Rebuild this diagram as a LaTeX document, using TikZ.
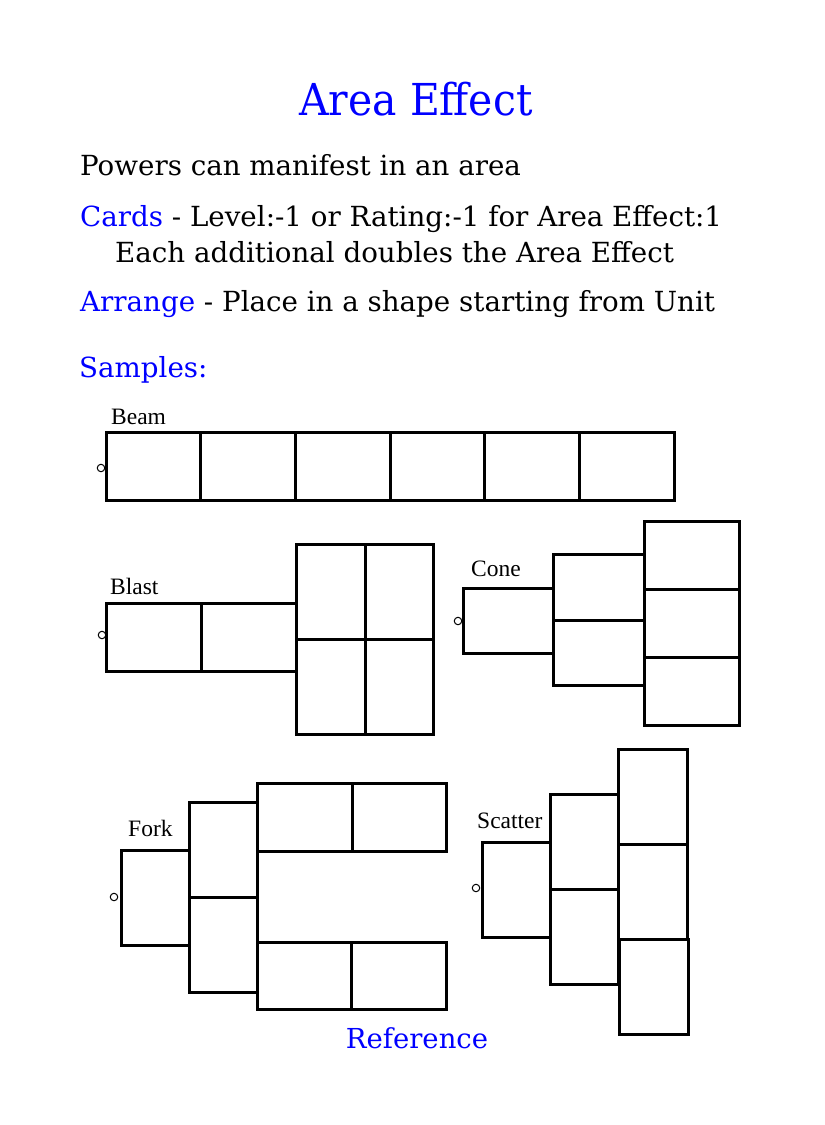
\documentclass[tikz,border=0pt]{standalone}
\usepackage{fontspec}
\setmainfont{DejaVu Serif}
\newfontfamily\titlefont{DejaVu Serif}[FakeStretch=0.93]
\newfontfamily\labelfont{Liberation Serif}
\definecolor{headblue}{RGB}{0,0,255}

\begin{document}
\begin{tikzpicture}[x=1pt,y=-1pt,
  card/.style={line width=3pt},
  unit/.style={circle,draw,line width=1pt,minimum size=7.5pt,inner sep=0pt},
  line/.style={anchor=base west,inner sep=0pt,font=\fontsize{27.7}{33}\selectfont},
  tag/.style={anchor=base west,inner sep=0pt,font=\labelfont\fontsize{23.5}{28}\selectfont}]
\useasboundingbox (0,0) rectangle (825,1125);
% heading text
\node[anchor=base,inner sep=0pt,text=headblue,font=\titlefont\fontsize{44}{53}\selectfont] (title) at (416,115) {Area Effect};
\node[line] (intro) at (80,175) {Powers can manifest in an area};
\node[line] (cards) at (80,226) {\textcolor{headblue}{Cards} - Level:-1 or Rating:-1 for Area Effect:1};
\node[line] (cardsmore) at (115,262) {Each additional doubles the Area Effect};
\node[line] (arrange) at (80,311) {\textcolor{headblue}{Arrange} - Place in a shape starting from Unit};
\node[line,text=headblue] (samples) at (79,377) {Samples:};
% beam
\node[tag] (beam) at (111,424) {Beam};
\node[unit] (beamunit) at (101,468) {};
\foreach \i in {0,...,5}
  \draw[card] ({106+94.67*\i},432) rectangle +(94.67,68);
% blast
\node[tag] (blast) at (110,594) {Blast};
\node[unit] (blastunit) at (102,635) {};
\draw[card] (106,603) rectangle (201,671);
\draw[card] (201,603) rectangle (296,671);
\draw[card] (296,544) rectangle (365,639);
\draw[card] (365,544) rectangle (433,639);
\draw[card] (296,639) rectangle (365,734);
\draw[card] (365,639) rectangle (433,734);
% cone
\node[tag] (cone) at (471,576) {Cone};
\node[unit] (coneunit) at (458,621) {};
\draw[card] (463,588) rectangle (553,653);
\draw[card] (553,554) rectangle (644,620);
\draw[card] (553,620) rectangle (644,685);
\draw[card] (644,521) rectangle (739,589);
\draw[card] (644,589) rectangle (739,657);
\draw[card] (644,657) rectangle (739,725);
% fork
\node[tag] (fork) at (128,836) {Fork};
\node[unit] (forkunit) at (114,897) {};
\draw[card] (121,850) rectangle (189,945);
\draw[card] (189,802) rectangle (257,897);
\draw[card] (189,897) rectangle (257,992);
\draw[card] (257,783) rectangle (352,851);
\draw[card] (352,783) rectangle (446,851);
\draw[card] (257,942) rectangle (351,1009);
\draw[card] (351,942) rectangle (446,1009);
% scatter
\node[tag] (scatter) at (477,828) {Scatter};
\node[unit] (scatterunit) at (476,888) {};
\draw[card] (482,842) rectangle (550,937);
\draw[card] (550,794) rectangle (618,889);
\draw[card] (550,889) rectangle (618,984);
\draw[card] (618,749) rectangle (687,844);
\draw[card] (618,844) rectangle (687,939);
\draw[card] (619,939) rectangle (688,1034);
\node[anchor=base,inner sep=0pt,text=headblue,font=\fontsize{27.5}{33}\selectfont] (reference) at (417,1048) {Reference};
\end{tikzpicture}
\end{document}
